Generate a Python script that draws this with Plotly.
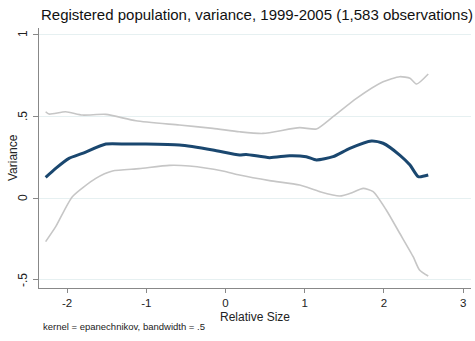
import plotly.graph_objects as go

# Relative size grid and local-polynomial estimates of the variance
size_mean = [-2.27, -2.143, -1.975, -1.806, -1.51, -1.25, -1.004, -0.582, -0.16, 0.177, 0.26,
             0.557, 0.81, 1.02, 1.148, 1.358, 1.57, 1.844, 1.99, 2.2, 2.33, 2.435, 2.56]
variance_mean = [0.126, 0.181, 0.242, 0.272, 0.329, 0.329, 0.329, 0.323, 0.293, 0.262, 0.266,
                 0.246, 0.258, 0.252, 0.232, 0.252, 0.303, 0.348, 0.334, 0.262, 0.201, 0.130, 0.140]

size_upper = [-2.27, -2.228, -2.017, -1.806, -1.51, -1.13, -0.582, -0.16, 0.177, 0.473,
              0.937, 1.148, 1.358, 1.654, 1.99, 2.2, 2.33, 2.414, 2.56]
variance_upper = [0.526, 0.512, 0.526, 0.506, 0.51, 0.471, 0.445, 0.425, 0.404, 0.394,
                  0.429, 0.421, 0.496, 0.608, 0.709, 0.74, 0.73, 0.695, 0.756]

size_lower = [-2.27, -2.143, -1.933, -1.637, -1.426, -1.089, -0.709, -0.456, -0.034, 0.177,
              0.557, 0.937, 1.19, 1.443, 1.611, 1.738, 1.865, 2.03, 2.2, 2.37, 2.45, 2.56]
variance_lower = [-0.266, -0.175, 0.008, 0.12, 0.165, 0.179, 0.199, 0.195, 0.165, 0.14,
                  0.106, 0.079, 0.039, 0.012, 0.035, 0.059, 0.039, -0.073, -0.215, -0.358, -0.439, -0.476]

x_ticks = [-2, -1, 0, 1, 2, 3]
y_ticks = [-0.5, 0, 0.5, 1]
y_tick_labels = ["-.5", "0", ".5", "1"]

GRAY = "#c6c6c6"
NAVY = "#1a476f"
FONT = "Liberation Sans, Arial, sans-serif"
TEXT = "#222222"

fig = go.Figure()
fig.add_trace(go.Scatter(x=size_upper, y=variance_upper, mode="lines",
                         line=dict(color=GRAY, width=1.6, shape="spline", smoothing=0.6),
                         showlegend=False))
fig.add_trace(go.Scatter(x=size_lower, y=variance_lower, mode="lines",
                         line=dict(color=GRAY, width=1.6, shape="spline", smoothing=0.6),
                         showlegend=False))
fig.add_trace(go.Scatter(x=size_mean, y=variance_mean, mode="lines",
                         line=dict(color=NAVY, width=3, shape="spline", smoothing=0.6),
                         showlegend=False))

# vertical y tick labels, set a little away from the axis
annotations = [
    dict(text=lab, xref="paper", yref="y", x=0, y=val, xshift=-16,
         xanchor="center", yanchor="middle", textangle=-90, showarrow=False,
         font=dict(size=12, family=FONT, color=TEXT))
    for val, lab in zip(y_ticks, y_tick_labels)
]
annotations += [
    dict(text="Variance", xref="paper", yref="paper", x=0, y=0.5, xshift=-26,
         xanchor="center", yanchor="middle", textangle=-90, showarrow=False,
         font=dict(size=12, family=FONT, color=TEXT)),
    dict(text="Relative Size", xref="paper", yref="paper", x=0.5, y=0, yshift=-29,
         xanchor="center", yanchor="middle", showarrow=False,
         font=dict(size=12, family=FONT, color=TEXT)),
    dict(text="Registered population, variance, 1999-2005 (1,583 observations)",
         xref="paper", yref="paper", x=0, y=1, xshift=0, yshift=14,
         xanchor="left", yanchor="middle", showarrow=False,
         font=dict(size=15, family=FONT, color="#111111")),
    dict(text="kernel = epanechnikov, bandwidth = .5",
         xref="paper", yref="paper", x=0, y=0, xshift=2, yshift=-38,
         xanchor="left", yanchor="middle", showarrow=False,
         font=dict(size=9.5, family=FONT, color=TEXT)),
]

fig.update_layout(
    width=475, height=341,
    margin=dict(l=39, r=4, t=28, b=53),
    paper_bgcolor="white", plot_bgcolor="white",
    font=dict(family=FONT, color=TEXT),
    xaxis=dict(range=[-2.354, 3.10], tickvals=x_ticks, ticktext=[str(t) for t in x_ticks],
               showgrid=False, zeroline=False, showline=True, linecolor="#888888", linewidth=1,
               ticks="outside", ticklen=4, tickcolor="#888888",
               tickfont=dict(size=11.5, family=FONT, color=TEXT)),
    yaxis=dict(range=[-0.549, 1.037], tickvals=y_ticks, showticklabels=False,
               showgrid=True, gridcolor="#e6f0f1", gridwidth=1,
               zeroline=False, showline=True, linecolor="#888888", linewidth=1,
               ticks="outside", ticklen=5, tickcolor="#888888"),
    annotations=annotations,
)

fig.write_html("out.html")
